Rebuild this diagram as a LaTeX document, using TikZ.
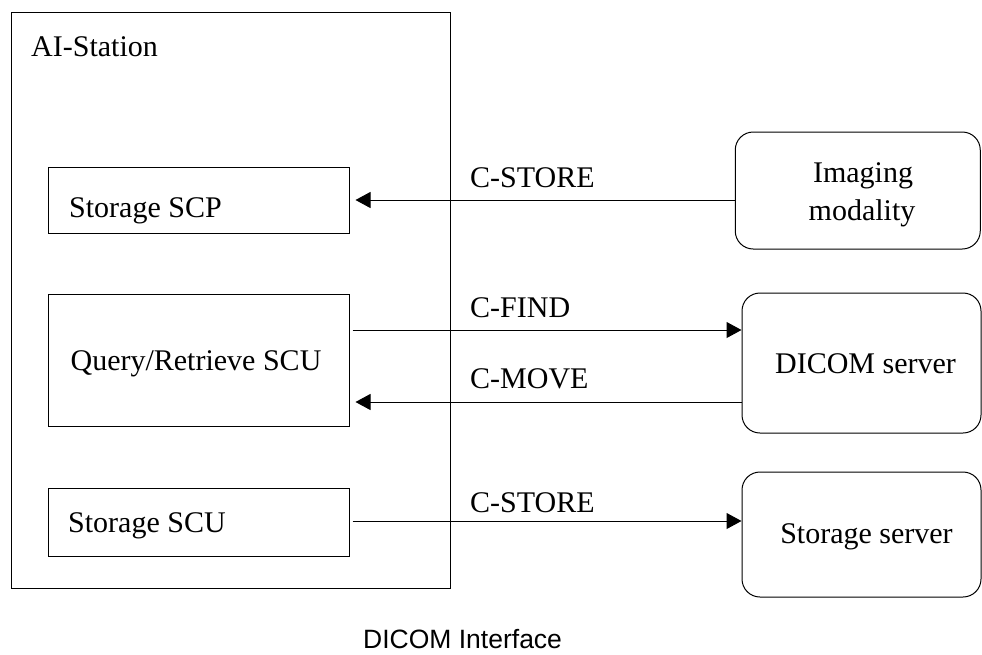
\documentclass[tikz,border=0pt]{standalone}
\usepackage{fontspec}
\setmainfont{Liberation Serif}
\newfontfamily\capfont{Liberation Sans}
\usetikzlibrary{arrows.meta}
\begin{document}
\begin{tikzpicture}[x=1pt,y=-1pt,
  box/.style={draw, line width=1pt, inner sep=0pt},
  rbox/.style={box, rounded corners=18pt},
  txt/.style={inner sep=0pt, font=\fontsize{30}{36}\selectfont},
  arr/.style={line width=1pt, -{Triangle[length=15pt,width=16pt]}},
  ln/.style={line width=1pt}]
\useasboundingbox (0,0) rectangle (982,654);
% containers
\node[box, minimum width=439pt, minimum height=576pt] (ai) at (230.5,300) {};
\node[box, minimum width=301pt, minimum height=66pt] (scp) at (198.5,200) {};
\node[box, minimum width=301pt, minimum height=132pt] (qr) at (198.5,360) {};
\node[box, minimum width=301pt, minimum height=68pt] (scu) at (198.5,522) {};
\node[rbox, minimum width=245pt, minimum height=117pt] (img) at (857.75,190.5) {};
\node[rbox, minimum width=239pt, minimum height=140pt] (dicom) at (861.5,363) {};
\node[rbox, minimum width=239pt, minimum height=125pt] (stor) at (861.5,534.5) {};
% texts
\node[txt, anchor=base west] (tai) at (31,56) {AI-Station};
\node[txt, anchor=base west] (tscp) at (69,217) {Storage SCP};
\node[txt, anchor=base] (tqr) at (196,370) {Query/Retrieve SCU};
\node[txt, anchor=base west] (tscu) at (68,532) {Storage SCU};
\node[txt, anchor=base] (timg1) at (863,182) {Imaging};
\node[txt, anchor=base] (timg2) at (862,220) {modality};
\node[txt, anchor=base] (tdicom) at (865.5,373) {DICOM server};
\node[txt, anchor=base] (tstor) at (866.5,543) {Storage server};
% connector labels
\node[txt, anchor=base west] (l1) at (470,187) {C-STORE};
\node[txt, anchor=base west] (l2) at (470,317) {C-FIND};
\node[txt, anchor=base west] (l3) at (470,388) {C-MOVE};
\node[txt, anchor=base west] (l4) at (470,512) {C-STORE};
% caption
\node[inner sep=0pt, anchor=base west, font=\capfont\fontsize{26.5}{30}\selectfont] (cap) at (363,648) {DICOM Interface};
% connectors
\coordinate (s1) at ([xshift=6pt]scp.east);
\draw[arr] (img.west |- s1) -- (s1);
\coordinate (f1) at ([shift={(3,-30)}]qr.east);
\draw[arr] (f1) -- (dicom.west |- f1);
\coordinate (m1) at ([shift={(6,42)}]qr.east);
\draw[arr] (dicom.west |- m1) -- (m1);
\coordinate (c1) at ([shift={(3,-1)}]scu.east);
\draw[arr] (c1) -- (stor.west |- c1);
\end{tikzpicture}
\end{document}
